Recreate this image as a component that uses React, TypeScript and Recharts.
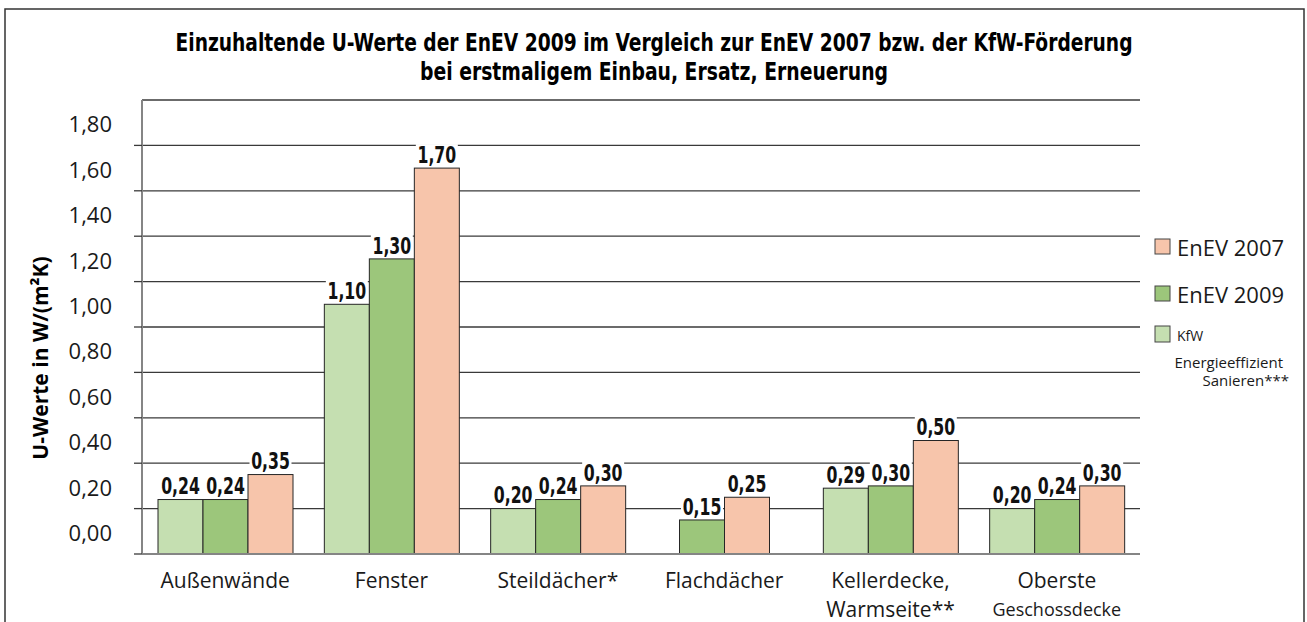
import React from 'react';
import { BarChart, Bar, XAxis, YAxis, CartesianGrid, LabelList } from 'recharts';

const categories = [
  'Außenwände',
  'Fenster',
  'Steildächer*',
  'Flachdächer',
  'Kellerdecke,\nWarmseite**',
  'Oberste\nGeschossdecke',
];
// second label line drawn smaller (only "Geschossdecke")
const smallSecondLine = [false, false, false, false, false, true];

const kfw = [0.24, 1.1, 0.2, null, 0.29, 0.2];
const enev2009 = [0.24, 1.3, 0.24, 0.15, 0.3, 0.24];
const enev2007 = [0.35, 1.7, 0.3, 0.25, 0.5, 0.3];

const yTicks = [0, 0.2, 0.4, 0.6, 0.8, 1.0, 1.2, 1.4, 1.6, 1.8];

const titleLines = [
  'Einzuhaltende U-Werte der EnEV 2009 im Vergleich zur EnEV 2007 bzw. der KfW-Förderung',
  'bei erstmaligem Einbau, Ersatz, Erneuerung',
];
const titleWidths = [957, 468];

const COLORS = {
  kfw: '#c5dfb1',
  e2009: '#9cc67b',
  e2007: '#f7c5ab',
  outline: '#262626',
  grid: '#3a3a3a',
  axis: '#858585',
};

const FONT = "'Open Sans', 'Noto Sans', sans-serif";
const NARROW = "'DejaVu Sans Condensed', 'Liberation Sans', sans-serif";

const rows = categories.map((name, i) => ({
  name,
  kfw: kfw[i],
  e2009: enev2009[i],
  e2007: enev2007[i],
}));

const fmt = (v: number) => v.toFixed(2).replace('.', ',');

// Flachdächer has no KfW bar; the remaining two bars sit centred in the group
const shiftFor = (name: string | undefined, w: number) => {
  const i = categories.indexOf(name as string);
  return i >= 0 && rows[i].kfw == null ? -w / 2 : 0;
};

function BarShape(props: any) {
  const { x, y, width, height, fill, payload, shiftable } = props;
  if (height == null || height <= 0) return null;
  const dx = shiftable ? shiftFor(payload?.name, width) : 0;
  return (
    <rect
      x={x + dx}
      y={y}
      width={width}
      height={height}
      fill={fill}
      stroke={COLORS.outline}
      strokeWidth={1}
    />
  );
}

function ValueLabel(props: any) {
  const { x, y, width, value, index, shiftable } = props;
  if (value == null) return null;
  const dx = shiftable && index != null ? shiftFor(categories[index], width) : 0;
  const cx = x + width / 2 + dx;
  const cy = y - 13;
  return (
    <g>
      <rect x={cx - 21} y={cy - 11} width={42} height={22} fill="#fff" />
      <text
        transform={`translate(${cx}, ${cy}) scale(0.76, 1)`}
        textAnchor="middle"
        dominantBaseline="central"
        fontFamily={NARROW}
        fontWeight={700}
        fontSize={23}
        fill="#111"
      >
        {fmt(value)}
      </text>
    </g>
  );
}

function YTick(props: any) {
  const { x, y, payload } = props;
  return (
    <text
      x={x}
      y={y - 22}
      textAnchor="end"
      dominantBaseline="central"
      fontFamily={FONT}
      fontSize={22}
      fill="#1a1a1a"
    >
      {fmt(payload.value)}
    </text>
  );
}

function XTick(props: any) {
  const { x, y, payload } = props;
  const lines = String(payload.value).split('\n');
  const idx = categories.indexOf(payload.value);
  return (
    <g>
      {lines.map((ln, i) => (
        <text
          key={i}
          x={x}
          y={y + 26 + i * 29}
          textAnchor="middle"
          dominantBaseline="central"
          fontFamily={FONT}
          fontSize={i === 1 && smallSecondLine[idx] ? 18 : 21}
          fill="#1a1a1a"
        >
          {ln}
        </text>
      ))}
    </g>
  );
}

function Overlay() {
  return (
    <svg
      width={1307}
      height={622}
      style={{ position: 'absolute', left: 0, top: 0, pointerEvents: 'none' }}
    >
      <rect x={5} y={9} width={1299} height={640} fill="none" stroke="#333" strokeWidth={1.5} />
      {titleLines.map((t, i) => (
        <text
          key={i}
          x={654}
          y={43 + i * 29}
          textAnchor="middle"
          dominantBaseline="central"
          fontFamily={NARROW}
          fontWeight={700}
          fontSize={24}
          textLength={titleWidths[i]}
          lengthAdjust="spacingAndGlyphs"
          fill="#000"
        >
          {t}
        </text>
      ))}
      <text
        transform="translate(40, 358) rotate(-90)"
        textAnchor="middle"
        dominantBaseline="central"
        fontFamily={FONT}
        fontWeight={700}
        fontSize={21}
        fill="#000"
      >
        U-Werte in W/(m²K)
      </text>

      {/* legend */}
      <rect x={1155} y={239} width={15} height={15} fill={COLORS.e2007} stroke="#444" />
      <text x={1177} y={247} dominantBaseline="central" fontFamily={FONT} fontSize={22} fill="#1a1a1a">
        EnEV 2007
      </text>
      <rect x={1155} y={286} width={15} height={15} fill={COLORS.e2009} stroke="#444" />
      <text x={1177} y={294} dominantBaseline="central" fontFamily={FONT} fontSize={22} fill="#1a1a1a">
        EnEV 2009
      </text>
      <rect x={1155} y={326} width={15} height={16} fill={COLORS.kfw} stroke="#444" />
      <text x={1177} y={335} dominantBaseline="central" fontFamily={FONT} fontSize={14} fill="#1a1a1a">
        KfW
      </text>
      <text x={1283} y={362} textAnchor="end" dominantBaseline="central" fontFamily={FONT} fontSize={15} fill="#1a1a1a">
        Energieeffizient
      </text>
      <text x={1289} y={380} textAnchor="end" dominantBaseline="central" fontFamily={FONT} fontSize={15} fill="#1a1a1a">
        Sanieren***
      </text>
    </svg>
  );
}

export default function App() {
  return (
    <div style={{ position: 'absolute', left: 0, top: 0, width: 1307, height: 622, background: '#fff' }}>
      <BarChart
        width={1307}
        height={622}
        data={rows}
        margin={{ top: 100, right: 167, bottom: 0, left: 0 }}
        barCategoryGap={16}
        barGap={0}
      >
        <CartesianGrid horizontal vertical={false} stroke={COLORS.grid} strokeWidth={1.3} />
        <YAxis
          width={142}
          domain={[0, 2]}
          ticks={yTicks}
          interval={0}
          axisLine={{ stroke: COLORS.axis, strokeWidth: 2 }}
          tickLine={{ stroke: COLORS.grid, strokeWidth: 1.3 }}
          tickSize={8}
          tickMargin={22}
          tick={<YTick />}
        />
        <XAxis
          dataKey="name"
          height={68}
          interval={0}
          axisLine={{ stroke: COLORS.axis, strokeWidth: 2 }}
          tickLine={false}
          tickSize={0}
          tickMargin={0}
          tick={<XTick />}
        />
        <Bar dataKey="kfw" fill={COLORS.kfw} shape={<BarShape />} isAnimationActive={false}>
          <LabelList dataKey="kfw" content={<ValueLabel />} />
        </Bar>
        <Bar dataKey="e2009" fill={COLORS.e2009} shape={<BarShape shiftable />} isAnimationActive={false}>
          <LabelList dataKey="e2009" content={<ValueLabel shiftable />} />
        </Bar>
        <Bar dataKey="e2007" fill={COLORS.e2007} shape={<BarShape shiftable />} isAnimationActive={false}>
          <LabelList dataKey="e2007" content={<ValueLabel shiftable />} />
        </Bar>
      </BarChart>
      <Overlay />
    </div>
  );
}
